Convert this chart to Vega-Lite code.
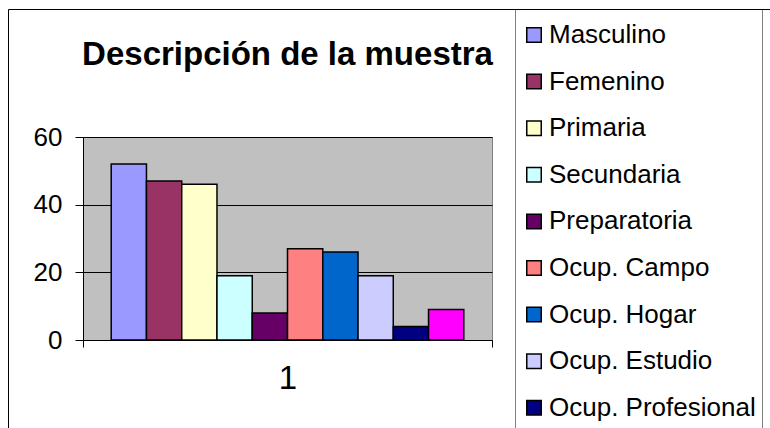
{
  "$schema": "https://vega.github.io/schema/vega-lite/v6.json",
  "width": 409,
  "height": 203,
  "autosize": "none",
  "padding": {"left": 83, "top": 137, "right": 278, "bottom": 88},
  "background": "white",
  "title": {
    "text": "Descripción de la muestra",
    "font": "Liberation Sans",
    "fontSize": 33,
    "fontWeight": "bold",
    "color": "black",
    "anchor": "middle",
    "offset": -63
  },
  "data": {
    "values": [
      {"cat": "1", "serie": "Masculino", "valor": 52},
      {"cat": "1", "serie": "Femenino", "valor": 47},
      {"cat": "1", "serie": "Primaria", "valor": 46},
      {"cat": "1", "serie": "Secundaria", "valor": 19},
      {"cat": "1", "serie": "Preparatoria", "valor": 8},
      {"cat": "1", "serie": "Ocup. Campo", "valor": 27},
      {"cat": "1", "serie": "Ocup. Hogar", "valor": 26},
      {"cat": "1", "serie": "Ocup. Estudio", "valor": 19},
      {"cat": "1", "serie": "Ocup. Profesional", "valor": 4},
      {"cat": "1", "serie": "Ocup. Otra", "valor": 9}
    ]
  },
  "mark": {"type": "bar", "stroke": "black", "strokeWidth": 1.5},
  "encoding": {
    "x": {
      "field": "cat",
      "type": "nominal",
      "scale": {"paddingInner": 0, "paddingOuter": 0},
      "axis": {
        "title": null,
        "labelAngle": 0,
        "tickBand": "extent",
        "tickSize": 7,
        "tickColor": "black",
        "domainColor": "black",
        "labelFont": "Liberation Sans",
        "labelFontSize": 33,
        "labelColor": "black",
        "labelPadding": 15
      }
    },
    "xOffset": {
      "field": "serie",
      "type": "nominal",
      "sort": ["Masculino", "Femenino", "Primaria", "Secundaria", "Preparatoria", "Ocup. Campo", "Ocup. Hogar", "Ocup. Estudio", "Ocup. Profesional", "Ocup. Otra"],
      "scale": {"paddingInner": 0, "paddingOuter": 0.8}
    },
    "y": {
      "field": "valor",
      "type": "quantitative",
      "scale": {"domain": [0, 60], "nice": false},
      "axis": {
        "title": null,
        "values": [0, 20, 40, 60],
        "grid": true,
        "gridColor": "black",
        "gridWidth": 1,
        "tickSize": 8,
        "tickColor": "black",
        "domainColor": "black",
        "labelFont": "Liberation Sans",
        "labelFontSize": 26,
        "labelColor": "black",
        "labelPadding": 13
      }
    },
    "strokeDash": {
      "field": "cat",
      "type": "nominal",
      "scale": {"domain": ["1"], "range": [[1, 0]]},
      "legend": {
        "orient": "none",
        "legendX": -75,
        "legendY": -128,
        "title": null,
        "strokeColor": "black",
        "padding": 600,
        "symbolOpacity": 0,
        "labelOpacity": 0
      }
    },
    "opacity": {
      "field": "cat",
      "type": "nominal",
      "scale": {"domain": ["1"], "range": [1]},
      "legend": {
        "orient": "none",
        "legendX": -76,
        "legendY": -129,
        "title": null,
        "strokeColor": "black",
        "padding": 600,
        "symbolOpacity": 0,
        "labelOpacity": 0
      }
    },
    "color": {
      "field": "serie",
      "type": "nominal",
      "sort": ["Masculino", "Femenino", "Primaria", "Secundaria", "Preparatoria", "Ocup. Campo", "Ocup. Hogar", "Ocup. Estudio", "Ocup. Profesional", "Ocup. Otra"],
      "scale": {
        "domain": ["Masculino", "Femenino", "Primaria", "Secundaria", "Preparatoria", "Ocup. Campo", "Ocup. Hogar", "Ocup. Estudio", "Ocup. Profesional", "Ocup. Otra"],
        "range": ["#9999FF", "#993366", "#FFFFCC", "#CCFFFF", "#660066", "#FF8080", "#0066CC", "#CCCCFF", "#000080", "#FF00FF"]
      },
      "legend": {
        "orient": "none",
        "legendX": 432,
        "legendY": -128,
        "title": " ",
        "titleFontSize": 1,
        "titlePadding": 6,
        "strokeColor": "#808080",
        "fillColor": "white",
        "padding": 6,
        "symbolType": "square",
        "symbolSize": 210,
        "symbolStrokeColor": "black",
        "symbolStrokeWidth": 1.5,
        "symbolOpacity": 1,
        "symbolFillOpacity": 1,
        "labelFont": "Liberation Sans",
        "labelFontSize": 26,
        "labelColor": "black",
        "labelLimit": 400,
        "labelOffset": 2,
        "rowPadding": 20.6
      }
    }
  },
  "config": {
    "view": {"fill": "#C0C0C0", "stroke": "#808080", "strokeWidth": 1}
  }
}
